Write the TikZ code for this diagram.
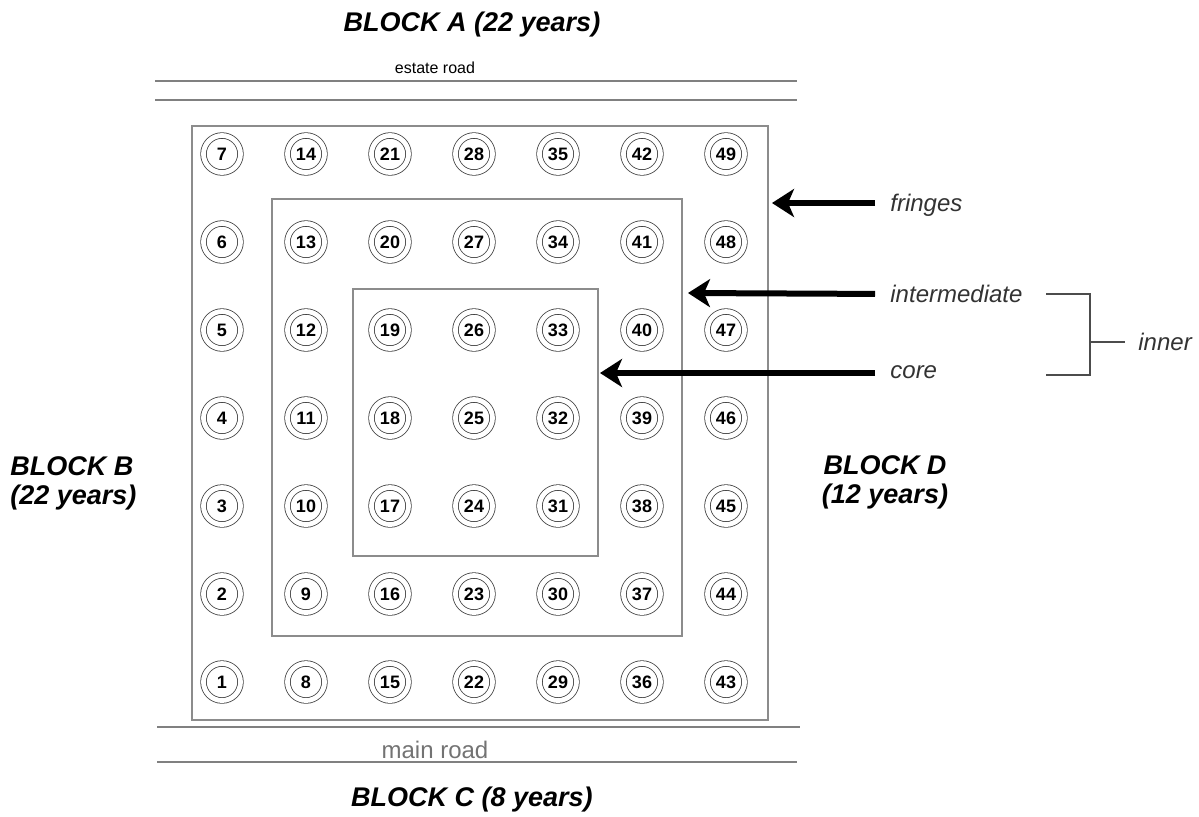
\documentclass[tikz,border=0pt]{standalone}
\usepackage{fontspec}
\setmainfont{Liberation Sans}
\usetikzlibrary{arrows.meta}
\tikzset{
  tree/.style={circle,draw=black!75,line width=0.4pt,double=white,double distance=2.4pt,
    minimum size=18.5pt,inner sep=0pt,font=\fontsize{9}{9}\selectfont\bfseries},
  zone/.style={draw=black!45,line width=0.7pt},
  road/.style={draw=black!50,line width=0.7pt},
  block/.style={font=\fontsize{13.5}{14.5}\selectfont\bfseries\itshape,inner sep=0pt},
  zonelabel/.style={font=\fontsize{12}{14}\selectfont\itshape,text=black!80,anchor=west,inner sep=0pt},
  pointer/.style={line width=3pt,shorten <=7.5pt,-{Stealth[length=11pt,width=14pt,inset=3pt]}},
}
\begin{document}
\begin{tikzpicture}[x=0.5pt,y=-0.5pt]
\useasboundingbox (0,0) rectangle (1199,816);
% block names
\node[block] (blockA) at (472,25) {BLOCK A (22 years)};
\node[block,align=left,anchor=west] (blockB) at (10,483) {BLOCK B\\(22 years)};
\node[block] (blockC) at (472,800) {BLOCK C (8 years)};
\node[block,align=center] (blockD) at (885,482) {BLOCK D\\(12 years)};
% roads
\draw[road] (155,81)--(797,81);
\draw[road] (155,100)--(797,100);
\node[font=\fontsize{8}{8}\selectfont] (estate) at (435,68) {estate road};
\draw[road] (157,727)--(800,727);
\draw[road] (157,762)--(797,762);
\node[font=\fontsize{12}{12}\selectfont,text=black!55] (main) at (435,750) {main road};
% zones
\draw[zone] (192,126) rectangle (768,720);
\draw[zone] (272,199) rectangle (682,636);
\draw[zone] (353,289) rectangle (598,556);
% trees
\foreach \c in {0,...,6}{
  \foreach \r in {0,...,6}{
    \pgfmathtruncatemacro{\num}{7*\c+7-\r}
    \node[tree] (t\num) at ({222+84*\c},{154+88*\r}) {\num};
  }
}
% zone labels
\coordinate (fr) at (772,203);
\coordinate (im) at (688,293);
\coordinate (co) at (600,373);
\node[zonelabel] (fringes) at (890,205) {fringes};
\node[zonelabel] (intermediate) at (890,294) {intermediate};
\node[zonelabel] (core) at (890,372) {core};
\draw[pointer] (fringes.west)++(0,-2)--(fr);
\draw[pointer] (intermediate.west)--(im);
\draw[pointer] (core.west)++(0,1)--(co);
% bracket
\coordinate (bt) at (1046,294);
\coordinate (bb) at (1046,375);
\coordinate (bm) at (1090,342);
\node[zonelabel] (inner) at (1138,342) {inner};
\draw[line width=0.7pt,black!70] (bt)-|(bm)|-(bb);
\draw[line width=0.7pt,black!70] (bm)--(inner.west-|1125,0);
\end{tikzpicture}
\end{document}
